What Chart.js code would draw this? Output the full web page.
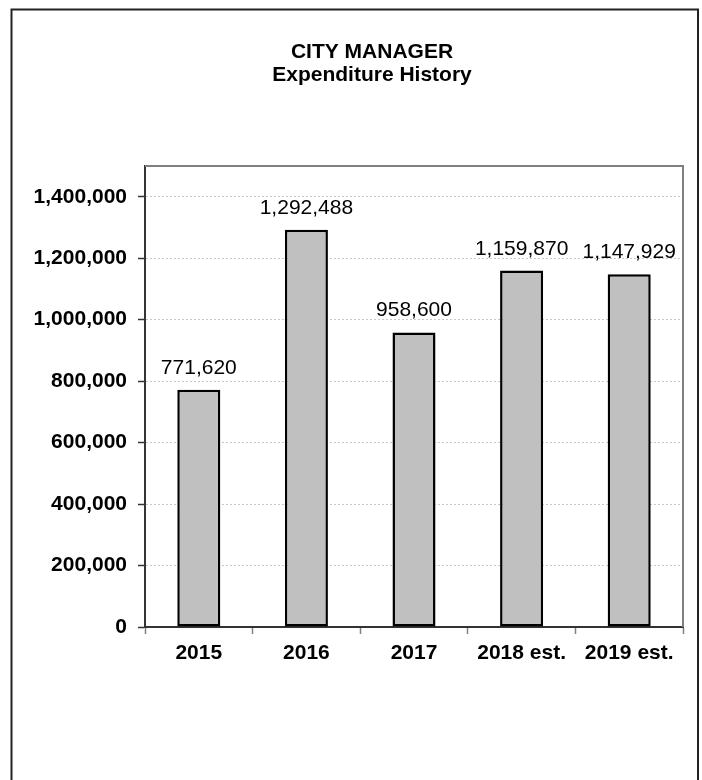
<!DOCTYPE html>
<html>
<head>
<meta charset="utf-8">
<title>City Manager Expenditure History</title>
<script src="https://cdn.jsdelivr.net/npm/chart.js@4"></script>
<style>
  html, body { margin: 0; padding: 0; background: #fff; }
  canvas { display: block; }
</style>
</head>
<body>
<canvas id="spendChart" width="702" height="780"></canvas>
<script>
const years = ['2015', '2016', '2017', '2018 est.', '2019 est.'];
const spent = [771620, 1292488, 958600, 1159870, 1147929];
const yTicks = [0, 200000, 400000, 600000, 800000, 1000000, 1200000, 1400000];
const titleLines = ['CITY MANAGER', 'Expenditure History'];

const FONT = "'Liberation Sans', Arial, sans-serif";
const fmt = v => v.toLocaleString('en-US');

// outer frame and the grey box around the plot
const framePlugin = {
  id: 'frames',
  beforeDraw(chart) {
    const ctx = chart.ctx;
    ctx.save();
    ctx.fillStyle = '#fff';
    ctx.fillRect(0, 0, chart.width, chart.height);
    ctx.strokeStyle = '#222';
    ctx.lineWidth = 2;
    ctx.strokeRect(11.5, 9.5, 686.5, chart.height + 20);
    ctx.restore();
  },
  afterDatasetsDraw(chart) {
    const { ctx, chartArea: a } = chart;
    ctx.save();
    ctx.strokeStyle = '#808080';
    ctx.lineWidth = 2;
    ctx.beginPath();
    ctx.moveTo(a.left, a.top);
    ctx.lineTo(a.right, a.top);
    ctx.lineTo(a.right, a.bottom);
    ctx.stroke();
    ctx.restore();
  }
};

// two-line bold heading above the plot
const heading = {
  id: 'heading',
  afterDraw(chart) {
    const ctx = chart.ctx;
    ctx.save();
    ctx.font = `bold 21px ${FONT}`;
    ctx.fillStyle = '#000';
    ctx.textAlign = 'center';
    ctx.textBaseline = 'alphabetic';
    titleLines.forEach((line, i) => {
      ctx.fillText(line, 372, 58 + i * 22.5);
    });
    ctx.restore();
  }
};

// value printed above each bar
const valueLabels = {
  id: 'valueLabels',
  afterDatasetsDraw(chart) {
    const ctx = chart.ctx;
    const meta = chart.getDatasetMeta(0);
    ctx.save();
    ctx.font = `21px ${FONT}`;
    ctx.fillStyle = '#000';
    ctx.textAlign = 'center';
    ctx.textBaseline = 'alphabetic';
    meta.data.forEach((bar, i) => {
      ctx.fillText(fmt(spent[i]), bar.x, bar.y - 16);
    });
    ctx.restore();
  }
};

new Chart(document.getElementById('spendChart'), {
  type: 'bar',
  data: {
    labels: years,
    datasets: [{
      data: spent,
      backgroundColor: '#c0c0c0',
      borderColor: '#000',
      borderWidth: 2.5,
      borderSkipped: false,
      categoryPercentage: 1,
      barPercentage: 0.4
    }]
  },
  options: {
    responsive: false,
    animation: false,
    devicePixelRatio: 1,
    layout: { padding: { top: 166, left: 0, right: 19, bottom: 0 } },
    plugins: {
      legend: { display: false },
      tooltip: { enabled: false },
      title: { display: false }
    },
    scales: {
      x: {
        afterFit: s => { s.height = 153; },
        grid: {
          drawOnChartArea: false,
          tickLength: 7,
          tickColor: '#808080',
          tickWidth: 1.5
        },
        border: { color: '#333', width: 2 },
        ticks: {
          color: '#000',
          padding: 7,
          font: { family: FONT, size: 21, weight: 'bold' }
        }
      },
      y: {
        min: 0,
        max: 1500000,
        afterFit: s => { s.width = 145; },
        afterBuildTicks: s => { s.ticks = yTicks.map(v => ({ value: v })); },
        grid: {
          color: '#c8c8c8',
          lineWidth: 1,
          tickLength: 7,
          tickColor: '#333',
          tickWidth: 1.5
        },
        border: { color: '#333', width: 2, dash: [2, 2] },
        ticks: {
          color: '#000',
          padding: 11,
          font: { family: FONT, size: 21, weight: 'bold' },
          callback: v => fmt(v)
        }
      }
    }
  },
  plugins: [framePlugin, valueLabels, heading]
});
</script>
</body>
</html>
